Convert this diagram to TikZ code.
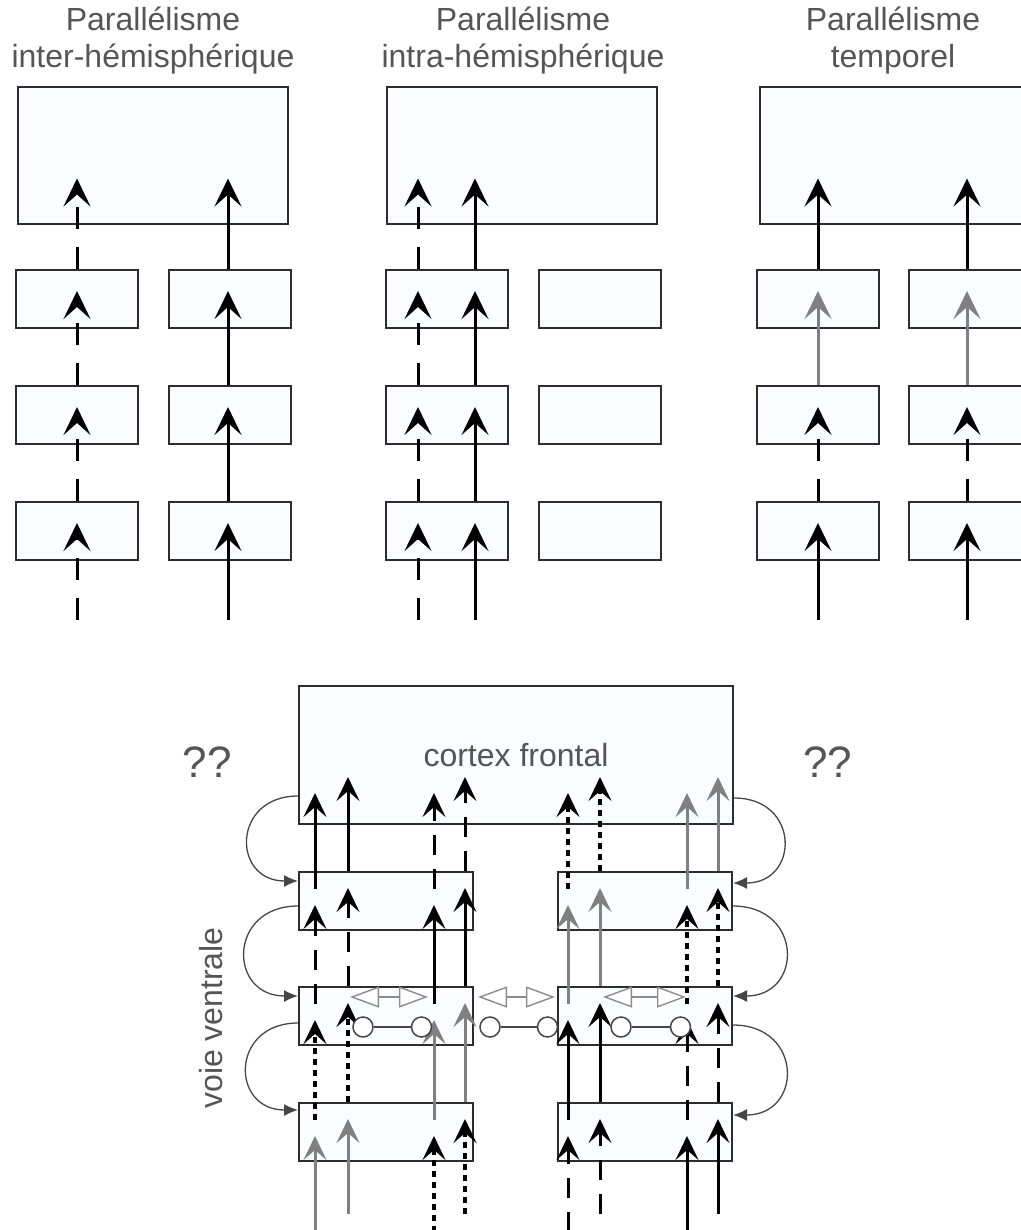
\documentclass[tikz,border=0pt]{standalone}
\usepackage{fontspec}
\setmainfont{Liberation Sans}
\usetikzlibrary{arrows.meta,positioning}
\definecolor{boxfill}{RGB}{250,252,255}
\definecolor{boxline}{RGB}{45,45,45}
\definecolor{txtgray}{RGB}{85,85,85}
\definecolor{fwdgray}{RGB}{128,128,128}
\definecolor{latline}{RGB}{70,70,70}
\definecolor{latgray}{RGB}{140,140,140}

\begin{document}
\begin{tikzpicture}[x=1pt, y=-1pt, node distance=56pt,
  area/.style={draw=boxline, line width=2pt, fill=boxfill, inner sep=0pt,
               minimum width=270pt, minimum height=137pt},
  stage/.style={area, minimum width=122pt, minimum height=58pt},
  lowstage/.style={stage, minimum width=174pt},
  title/.style={align=center, inner sep=0pt, text=txtgray, font=\fontsize{32}{37}\selectfont},
  fwd/.style={-{Stealth[length=28pt,width=27pt,inset=12pt]}, line width=3pt},
  fwddash/.style={fwd, dash pattern=on 22pt off 18pt},
  fwdgray/.style={fwd, draw=fwdgray},
  ff/.style={-{Stealth[length=24pt,width=23pt,inset=10pt]}, line width=3pt},
  ffdash/.style={ff, dash pattern=on 20pt off 14pt},
  ffdot/.style={ff, line width=3.5pt, dash pattern=on 6pt off 5pt},
  ffgray/.style={ff, draw=fwdgray},
  fb/.style={-{Latex[length=14pt,width=12pt]}, draw=latline, line width=1.3pt},
  lat/.style={{Triangle[length=29pt,width=21pt,fill=white]}-{Triangle[length=29pt,width=21pt,fill=white]},
              draw=latgray, line width=1.4pt},
  unit/.style={circle, draw=latline, line width=1.5pt, fill=white, minimum size=20pt, inner sep=0pt},
  link/.style={draw=latline, line width=2pt}]
\useasboundingbox (0,0) rectangle (1020,1230);

% inter-hemispheric
\node[title] (t1) at (153,41) {Parallélisme\\inter-hémisphérique};
\node[area] (p1top) at (153,156) {};
\node[stage] (p1a1) at (77,299) {};
\node[stage, below=of p1a1] (p1a2) {};
\node[stage, below=of p1a2] (p1a3) {};
\node[stage, right=29pt of p1a1] (p1b1) {};
\node[stage, right=29pt of p1a2] (p1b2) {};
\node[stage, right=29pt of p1a3] (p1b3) {};
\coordinate (p1ca) at (77,620);
\coordinate (p1cb) at (228,620);
\draw[fwddash] (p1ca) -- ([yshift=-22pt]p1ca |- p1a3.north);
\draw[fwddash] (p1ca |- p1a3.north) -- ([yshift=-22pt]p1ca |- p1a2.north);
\draw[fwddash] (p1ca |- p1a2.north) -- ([yshift=-22pt]p1ca |- p1a1.north);
\draw[fwddash] (p1ca |- p1a1.north) -- ([yshift=47pt]p1ca |- p1top.south);
\draw[fwd] (p1cb) -- ([yshift=-22pt]p1cb |- p1b3.north);
\draw[fwd] (p1cb |- p1b3.north) -- ([yshift=-22pt]p1cb |- p1b2.north);
\draw[fwd] (p1cb |- p1b2.north) -- ([yshift=-22pt]p1cb |- p1b1.north);
\draw[fwd] (p1cb |- p1b1.north) -- ([yshift=47pt]p1cb |- p1top.south);

% intra-hemispheric
\node[title] (t2) at (523,41) {Parallélisme\\intra-hémisphérique};
\node[area] (p2top) at (522,156) {};
\node[stage] (p2a1) at (447,299) {};
\node[stage, below=of p2a1] (p2a2) {};
\node[stage, below=of p2a2] (p2a3) {};
\node[stage, right=29pt of p2a1] (p2b1) {};
\node[stage, right=29pt of p2a2] (p2b2) {};
\node[stage, right=29pt of p2a3] (p2b3) {};
\coordinate (p2ca) at (418,620);
\coordinate (p2cb) at (475,620);
\draw[fwddash] (p2ca) -- ([yshift=-22pt]p2ca |- p2a3.north);
\draw[fwddash] (p2ca |- p2a3.north) -- ([yshift=-22pt]p2ca |- p2a2.north);
\draw[fwddash] (p2ca |- p2a2.north) -- ([yshift=-22pt]p2ca |- p2a1.north);
\draw[fwddash] (p2ca |- p2a1.north) -- ([yshift=47pt]p2ca |- p2top.south);
\draw[fwd] (p2cb) -- ([yshift=-22pt]p2cb |- p2a3.north);
\draw[fwd] (p2cb |- p2a3.north) -- ([yshift=-22pt]p2cb |- p2a2.north);
\draw[fwd] (p2cb |- p2a2.north) -- ([yshift=-22pt]p2cb |- p2a1.north);
\draw[fwd] (p2cb |- p2a1.north) -- ([yshift=47pt]p2cb |- p2top.south);

% temporal
\node[title] (t3) at (893,41) {Parallélisme\\temporel};
\node[area] (p3top) at (895,156) {};
\node[stage] (p3a1) at (818,299) {};
\node[stage, below=of p3a1] (p3a2) {};
\node[stage, below=of p3a2] (p3a3) {};
\node[stage, right=28pt of p3a1] (p3b1) {};
\node[stage, right=28pt of p3a2] (p3b2) {};
\node[stage, right=28pt of p3a3] (p3b3) {};
\coordinate (p3ca) at (818,620);
\coordinate (p3cb) at (967,620);
\draw[fwd] (p3ca) -- ([yshift=-22pt]p3ca |- p3a3.north);
\draw[fwddash] (p3ca |- p3a3.north) -- ([yshift=-22pt]p3ca |- p3a2.north);
\draw[fwdgray] (p3ca |- p3a2.north) -- ([yshift=-22pt]p3ca |- p3a1.north);
\draw[fwd] (p3ca |- p3a1.north) -- ([yshift=47pt]p3ca |- p3top.south);
\draw[fwd] (p3cb) -- ([yshift=-22pt]p3cb |- p3b3.north);
\draw[fwddash] (p3cb |- p3b3.north) -- ([yshift=-22pt]p3cb |- p3b2.north);
\draw[fwdgray] (p3cb |- p3b2.north) -- ([yshift=-22pt]p3cb |- p3b1.north);
\draw[fwd] (p3cb |- p3b1.north) -- ([yshift=47pt]p3cb |- p3top.south);

% ventral stream
\node[area, minimum width=434pt, minimum height=138pt, text=txtgray,
      font=\fontsize{32}{34}\selectfont] (cortex) at (516,755) {cortex frontal};
\node[title, font=\fontsize{44}{44}\selectfont, left=66pt of cortex, yshift=-7pt] (qleft) {??};
\node[title, font=\fontsize{44}{44}\selectfont, right=69pt of cortex, yshift=-7pt] (qright) {??};
\node[lowstage, below=46pt of cortex.south west, anchor=north west] (l1) {};
\node[lowstage, below=55pt of l1] (l2) {};
\node[lowstage, below=56pt of l2] (l3) {};
\node[lowstage, right=83pt of l1] (r1) {};
\node[lowstage, right=83pt of l2] (r2) {};
\node[lowstage, right=83pt of l3] (r3) {};
\node[title, rotate=90] (ventral) at (211,1018) {voie ventrale};

\coordinate (cL1) at (315,1232);
\coordinate (cL2) at (348,1214);
\coordinate (cL3) at (434,1232);
\coordinate (cL4) at (465,1214);
\coordinate (cR1) at (568,1232);
\coordinate (cR2) at (600,1214);
\coordinate (cR3) at (687,1232);
\coordinate (cR4) at (718,1214);

\draw[ffgray] (cL1) -- ([yshift=-34pt]cL1 |- l3.north);
\draw[ffdot] ([yshift=-18pt]cL1 |- l3.north) -- ([yshift=-34pt]cL1 |- l2.north);
\draw[ffdash] ([yshift=-18pt]cL1 |- l2.north) -- ([yshift=-34pt]cL1 |- l1.north);
\draw[ff] ([yshift=-18pt]cL1 |- l1.north) -- ([yshift=32pt]cL1 |- cortex.south);
\draw[ffgray] (cL2) -- ([yshift=-17pt]cL2 |- l3.north);
\draw[ffdot] (cL2 |- l3.north) -- ([yshift=-17pt]cL2 |- l2.north);
\draw[ffdash] (cL2 |- l2.north) -- ([yshift=-17pt]cL2 |- l1.north);
\draw[ff] (cL2 |- l1.north) -- ([yshift=48pt]cL2 |- cortex.south);

\draw[ffdot] (cL3) -- ([yshift=-34pt]cL3 |- l3.north);
\draw[ffgray] ([yshift=-18pt]cL3 |- l3.north) -- ([yshift=-34pt]cL3 |- l2.north);
\draw[ff] ([yshift=-18pt]cL3 |- l2.north) -- ([yshift=-34pt]cL3 |- l1.north);
\draw[ffdash] ([yshift=-18pt]cL3 |- l1.north) -- ([yshift=32pt]cL3 |- cortex.south);
\draw[ffdot] (cL4) -- ([yshift=-17pt]cL4 |- l3.north);
\draw[ffgray] (cL4 |- l3.north) -- ([yshift=-17pt]cL4 |- l2.north);
\draw[ff] (cL4 |- l2.north) -- ([yshift=-17pt]cL4 |- l1.north);
\draw[ffdash] (cL4 |- l1.north) -- ([yshift=48pt]cL4 |- cortex.south);

\draw[ffdash] (cR1) -- ([yshift=-34pt]cR1 |- r3.north);
\draw[ff] ([yshift=-18pt]cR1 |- r3.north) -- ([yshift=-34pt]cR1 |- r2.north);
\draw[ffgray] ([yshift=-18pt]cR1 |- r2.north) -- ([yshift=-34pt]cR1 |- r1.north);
\draw[ffdot] ([yshift=-18pt]cR1 |- r1.north) -- ([yshift=32pt]cR1 |- cortex.south);
\draw[ffdash] (cR2) -- ([yshift=-17pt]cR2 |- r3.north);
\draw[ff] (cR2 |- r3.north) -- ([yshift=-17pt]cR2 |- r2.north);
\draw[ffgray] (cR2 |- r2.north) -- ([yshift=-17pt]cR2 |- r1.north);
\draw[ffdot] (cR2 |- r1.north) -- ([yshift=48pt]cR2 |- cortex.south);

\draw[ff] (cR3) -- ([yshift=-34pt]cR3 |- r3.north);
\draw[ffdash] ([yshift=-18pt]cR3 |- r3.north) -- ([yshift=-34pt]cR3 |- r2.north);
\draw[ffdot] ([yshift=-18pt]cR3 |- r2.north) -- ([yshift=-34pt]cR3 |- r1.north);
\draw[ffgray] ([yshift=-18pt]cR3 |- r1.north) -- ([yshift=32pt]cR3 |- cortex.south);
\draw[ff] (cR4) -- ([yshift=-17pt]cR4 |- r3.north);
\draw[ffdash] (cR4 |- r3.north) -- ([yshift=-17pt]cR4 |- r2.north);
\draw[ffdot] (cR4 |- r2.north) -- ([yshift=-17pt]cR4 |- r1.north);
\draw[ffgray] (cR4 |- r1.north) -- ([yshift=48pt]cR4 |- cortex.south);

% lateral links
\draw[lat] ([xshift=52pt,yshift=-11pt]l2.north west) -- ([xshift=130pt,yshift=-11pt]l2.north west);
\draw[lat] ([xshift=4pt,yshift=-11pt]l2.north east) -- ([xshift=-2pt,yshift=-11pt]r2.north west);
\draw[lat] ([xshift=46pt,yshift=-11pt]r2.north west) -- ([xshift=129pt,yshift=-11pt]r2.north west);
\node[unit] (u1) at (363,1027) {};
\node[unit, right=37pt of u1] (u2) {};
\node[unit, right=47pt of u2] (u3) {};
\node[unit, right=36pt of u3] (u4) {};
\node[unit, right=52pt of u4] (u5) {};
\node[unit, right=38pt of u5] (u6) {};
\draw[link] (u1) -- (u2);
\draw[link] (u3) -- (u4);
\draw[link] (u5) -- (u6);

% feedback loops
\draw[fb] ([yshift=29pt]cortex.south west) to[out=180,in=180,looseness=2] ([yshift=-10pt]l1.north west);
\draw[fb] ([yshift=25pt]l1.south west) to[out=180,in=180,looseness=2] ([yshift=-10pt]l2.north west);
\draw[fb] ([yshift=23pt]l2.south west) to[out=180,in=180,looseness=2] ([yshift=-8pt]l3.north west);
\draw[fb] ([yshift=27pt]cortex.south east) to[out=0,in=0,looseness=2] ([yshift=-12pt]r1.north east);
\draw[fb] ([yshift=25pt]r1.south east) to[out=0,in=0,looseness=2] ([yshift=-10pt]r2.north east);
\draw[fb] ([yshift=21pt]r2.south east) to[out=0,in=0,looseness=2] ([yshift=-13pt]r3.north east);
\end{tikzpicture}
\end{document}
